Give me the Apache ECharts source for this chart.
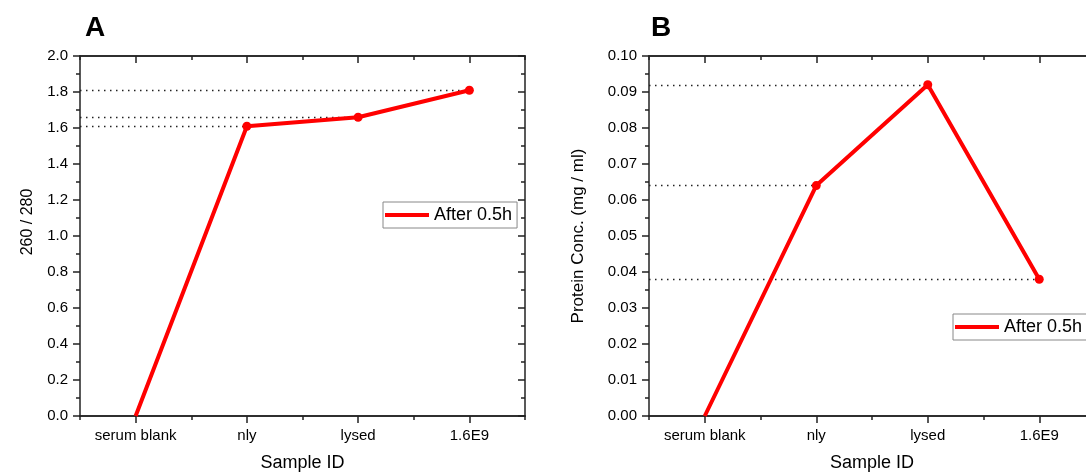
<!DOCTYPE html>
<html>
<head>
<meta charset="utf-8">
<script src="https://cdn.jsdelivr.net/npm/echarts@6/dist/echarts.min.js"></script>
<style>
  html, body { margin: 0; padding: 0; background: #fff; }
  #chart { width: 1086px; height: 472px; }
</style>
</head>
<body>
<div id="chart"></div>
<script>
// ---- data ----
const categories = ['serum blank', 'nly', 'lysed', '1.6E9'];
const ratioValues = [0, 1.61, 1.66, 1.81];          // panel A: 260 / 280
const proteinValues = [0, 0.064, 0.092, 0.038];     // panel B: protein conc. (mg/ml)
const seriesName = 'After 0.5h';
const panelTitles = ['A', 'B'];
const yNames = ['260 / 280', 'Protein Conc. (mg / ml)'];
const xName = 'Sample ID';
const ratioAxis = { min: 0, max: 2.0, interval: 0.2, decimals: 1 };
const proteinAxis = { min: 0, max: 0.10, interval: 0.01, decimals: 2 };
const guideIndices = [1, 2, 3]; // points with dotted guide lines to the y axis
const hiddenMarkerIndex = 0;    // first point has no visible marker

// ---- layout / style ----
const FONT = "'Liberation Sans', Arial, sans-serif";
const AX = '#222';
const grids = [
  { left: 80, top: 56, width: 445, height: 360, outerBoundsMode: 'none', containLabel: false },
  { left: 649, top: 56, width: 446, height: 360, outerBoundsMode: 'none', containLabel: false }
];

function xAxes(gi) {
  const common = { type: 'category', data: categories, gridIndex: gi, boundaryGap: true,
    axisLine: { lineStyle: { color: AX, width: 1.5 } }, splitLine: { show: false } };
  return [
    Object.assign({}, common, { position: 'bottom',
      name: xName, nameLocation: 'middle', nameGap: 38,
      nameTextStyle: { fontFamily: FONT, fontSize: 18, color: '#000' },
      axisTick: { show: true, alignWithLabel: true, length: 7, inside: false, lineStyle: { color: AX, width: 1.5 } },
      axisLabel: { fontFamily: FONT, fontSize: 15, color: '#000', margin: 12, interval: 0 } }),
    Object.assign({}, common, { position: 'bottom',
      axisTick: { show: true, alignWithLabel: false, interval: 0, length: 4, inside: false, lineStyle: { color: AX, width: 1.5 } },
      axisLabel: { show: false } }),
    Object.assign({}, common, { position: 'top',
      axisTick: { show: true, alignWithLabel: true, length: 7, inside: true, lineStyle: { color: AX, width: 1.5 } },
      axisLabel: { show: false } }),
    Object.assign({}, common, { position: 'top',
      axisTick: { show: true, alignWithLabel: false, interval: 0, length: 4, inside: true, lineStyle: { color: AX, width: 1.5 } },
      axisLabel: { show: false } })
  ];
}

function yAxes(gi, ax, name, nameGap, nameSize, namePadding) {
  const common = { type: 'value', gridIndex: gi, min: ax.min, max: ax.max, interval: ax.interval,
    axisLine: { show: true, lineStyle: { color: AX, width: 1.5 } }, splitLine: { show: false } };
  return [
    Object.assign({}, common, { position: 'left',
      name: name, nameLocation: 'middle', nameGap: nameGap, nameRotate: 90,
      nameTextStyle: { fontFamily: FONT, fontSize: nameSize, color: '#000', padding: namePadding },
      axisTick: { show: true, length: 7, inside: false, lineStyle: { color: AX, width: 1.5 } },
      minorTick: { show: true, splitNumber: 2, length: 4, lineStyle: { color: AX, width: 1.5 } },
      axisLabel: { fontFamily: FONT, fontSize: 15, color: '#000', margin: 12,
        formatter: v => v.toFixed(ax.decimals) } }),
    Object.assign({}, common, { position: 'right',
      axisTick: { show: true, length: 7, inside: true, lineStyle: { color: AX, width: 1.5 } },
      minorTick: { show: true, splitNumber: 2, length: 4, lineStyle: { color: AX, width: 1.5 } },
      axisLabel: { show: false } })
  ];
}

function makeSeries(values, xIdx, yIdx, gridLeft) {
  return {
    type: 'line', name: seriesName,
    data: values.map((v, i) => i === hiddenMarkerIndex ? { value: v, symbol: 'none' } : v),
    xAxisIndex: xIdx, yAxisIndex: yIdx,
    symbol: 'circle', symbolSize: 9,
    lineStyle: { color: '#ff0000', width: 4 },
    itemStyle: { color: '#ff0000' },
    z: 5,
    markLine: {
      silent: true, symbol: 'none', label: { show: false },
      lineStyle: { color: '#222', width: 1.3, type: [1.5, 4.5] },
      z: 2,
      data: guideIndices.map(i => [
        { coord: [i, values[i]], x: gridLeft },
        { coord: [i, values[i]] }
      ])
    }
  };
}

function legendAt(left, top) {
  return {
    data: [seriesName], left: left, top: top, orient: 'horizontal',
    icon: 'rect', itemWidth: 44, itemHeight: 4,
    padding: [4, 5, 4, 2], borderColor: '#888', borderWidth: 1, backgroundColor: '#fff',
    textStyle: { fontFamily: FONT, fontSize: 18, color: '#000' },
    selectedMode: false
  };
}

const chart = echarts.init(document.getElementById('chart'), null, { renderer: 'canvas' });
chart.setOption({
  backgroundColor: '#fff',
  animation: false,
  title: [
    { text: panelTitles[0], left: 80, top: 9, textStyle: { fontFamily: FONT, fontSize: 28, fontWeight: 'bold', color: '#000' } },
    { text: panelTitles[1], left: 646, top: 9, textStyle: { fontFamily: FONT, fontSize: 28, fontWeight: 'bold', color: '#000' } }
  ],
  legend: [legendAt(383, 202), legendAt(953, 314)],
  grid: grids,
  xAxis: [].concat(xAxes(0), xAxes(1)),
  yAxis: [].concat(
    yAxes(0, ratioAxis, yNames[0], 44, 16, [0, 0, 0, 28]),
    yAxes(1, proteinAxis, yNames[1], 62, 17, 0)
  ),
  series: [
    makeSeries(ratioValues, 0, 0, grids[0].left),
    makeSeries(proteinValues, 4, 2, grids[1].left)
  ]
});
</script>
</body>
</html>
